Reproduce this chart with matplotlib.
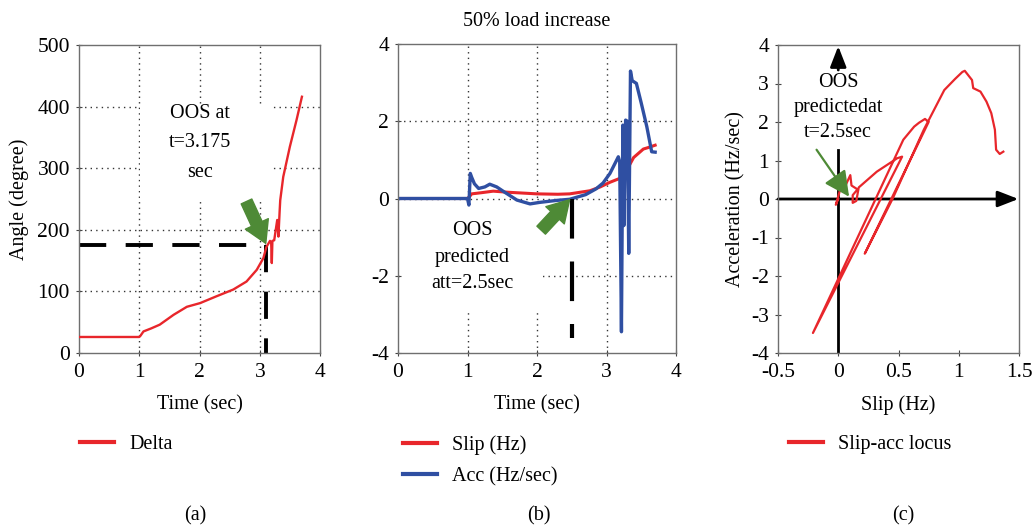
import matplotlib
matplotlib.use("Agg")
import matplotlib.pyplot as plt
from matplotlib.patches import Rectangle
from matplotlib.lines import Line2D

plt.rcParams['font.family'] = ['Liberation Serif', 'DejaVu Serif']
plt.rcParams['font.size'] = 14.5
plt.rcParams['axes.unicode_minus'] = False

# ---------------- data ----------------
# (a) rotor angle
delta_t = [0, 1.0, 1.02, 1.07, 1.2, 1.34, 1.57, 1.79, 2.01, 2.28, 2.56, 2.78, 2.95, 3.06, 3.11,
           3.17, 3.19, 3.20, 3.21, 3.24, 3.29, 3.31, 3.33, 3.34, 3.39, 3.50, 3.61, 3.70]
delta = [26, 26, 28, 35, 40, 46, 62, 75, 81, 92, 103, 116, 135, 154, 172,
         182, 178, 146, 182, 183, 216, 189, 230, 248, 286, 335, 378, 416]
oos_t_a = 3.11
oos_delta = 176

# (b) slip and acceleration vs time
slip_t = [0, 1.0, 1.03, 1.06, 1.2, 1.37, 1.6, 1.8, 2.0, 2.3, 2.47, 2.76, 2.91, 3.05, 3.19,
          3.29, 3.39, 3.53, 3.62, 3.70]
slip = [0, 0, 0.05, 0.12, 0.15, 0.19, 0.16, 0.14, 0.12, 0.11, 0.12, 0.2, 0.3, 0.42, 0.52,
        0.73, 1.06, 1.28, 1.33, 1.38]
acc_t = [0, 1.0, 1.02, 1.04, 1.06, 1.1, 1.16, 1.25, 1.32, 1.42, 1.52, 1.71, 1.90, 2.04, 2.28,
         2.47, 2.7, 2.85, 2.95, 3.05, 3.12, 3.17, 3.19, 3.215, 3.235, 3.25, 3.275, 3.30, 3.32,
         3.345, 3.37, 3.43, 3.50, 3.58, 3.65, 3.70]
acc = [0, 0, -0.17, 0.65, 0.55, 0.38, 0.26, 0.3, 0.37, 0.3, 0.18, -0.04, -0.14, -0.1, -0.05,
       -0.02, 0.1, 0.25, 0.4, 0.65, 0.9, 1.08, 0.95, -3.45, 1.9, -0.7, 2.03, 2.0, -1.42,
       3.3, 3.05, 2.98, 2.47, 1.86, 1.21, 1.2]
oos_t_b = 2.5

# (c) slip-acceleration locus
locus_s = [0, -0.02, 0.03, 0.06, 0.10, 0.11, 0.16, 0.12, 0.12, 0.15, 0.17, 0.32, 0.49, 0.53,
           -0.21, 0.54, 0.63, 0.67, 0.72, 0.75, 0.22, 0.45, 0.71, 0.88, 0.97, 1.03, 1.05,
           1.11, 1.12, 1.18, 1.23, 1.27, 1.30, 1.31, 1.34, 1.37]
locus_a = [0, -0.15, 0.40, 0.35, 0.62, 0.35, 0.25, 0.10, -0.10, -0.05, 0.30, 0.71, 1.06, 1.10,
           -3.48, 1.54, 1.88, 1.98, 2.08, 2.0, -1.42, 0.0, 1.8, 2.83, 3.12, 3.30, 3.33,
           3.09, 2.88, 2.79, 2.53, 2.23, 1.80, 1.28, 1.17, 1.23]

# ---------------- styling ----------------
RED = '#e8262b'
BLUE = '#2f4fa2'
GREEN = '#4e8a36'
SPINE = '#6f6f6f'
GRID = dict(color='#333333', linestyle=(0, (1, 3)), linewidth=1.0)
TXT = 14.5
TICK = 15.5

W, H = 1033, 530
fig = plt.figure(figsize=(W / 100, H / 100), dpi=100)


def px_axes(l, r, t, b):
    return fig.add_axes([l / W, 1 - b / H, (r - l) / W, (b - t) / H])


def style(ax):
    for s in ax.spines.values():
        s.set_color(SPINE)
        s.set_linewidth(1.0)
    ax.tick_params(direction='inout', length=5, width=0.8, color='#444444', labelsize=TICK)
    ax.tick_params(axis='x', pad=5)
    ax.tick_params(axis='y', pad=4)
    ax.set_axisbelow(True)


# ---- (a) ----
axa = px_axes(79, 320, 45, 353)
style(axa)
axa.set_xlim(0, 4)
axa.set_ylim(0, 500)
axa.set_xticks([0, 1, 2, 3, 4])
axa.set_yticks([0, 100, 200, 300, 400, 500])
for x in [1, 2, 3]:
    axa.axvline(x, zorder=0.5, **GRID)
for y in [100, 200, 300, 400]:
    axa.axhline(y, zorder=0.5, **GRID)
axa.add_patch(Rectangle((1.02, 246), 2.15, 157, facecolor='white', edgecolor='none', zorder=1))
axa.text(2.0, 341, 'OOS at\nt=3.175\nsec', ha='center', va='center', fontsize=TXT,
         linespacing=1.75, zorder=3)
la, = axa.plot(delta_t, delta, color=RED, lw=1.7, zorder=3, label='Delta')
axa.plot([0, oos_t_a], [oos_delta, oos_delta], color='black', lw=2.8, dashes=(7, 5), zorder=2.5)
axa.plot([oos_t_a, oos_t_a], [oos_delta, 0], color='black', lw=2.8, dashes=(7, 5), zorder=2.5)
axa.annotate('', xy=(3.10, 178), xytext=(2.78, 246),
             arrowprops=dict(arrowstyle='simple,head_length=1.1,head_width=1.3,tail_width=0.6',
                             mutation_scale=14, color=GREEN, shrinkA=0, shrinkB=0), zorder=4)
axa.set_xlabel('Time (sec)', fontsize=TXT, labelpad=9)
axa.set_ylabel('Angle (degree)', fontsize=TXT, labelpad=6)

# ---- (b) ----
axb = px_axes(398, 676, 44, 353)
style(axb)
axb.set_xlim(0, 4)
axb.set_ylim(-4, 4)
axb.set_xticks([0, 1, 2, 3, 4])
axb.set_yticks([-4, -2, 0, 2, 4])
for x in [1, 2, 3]:
    axb.axvline(x, zorder=0.5, **GRID)
for y in [-2, 0, 2]:
    axb.axhline(y, zorder=0.5, **GRID)
axb.add_patch(Rectangle((0.08, -2.95), 2.01, 2.85, facecolor='white', edgecolor='none', zorder=1))
axb.text(1.07, -1.52, 'OOS\npredicted\natt=2.5sec', ha='center', va='center', fontsize=TXT,
         linespacing=1.55, zorder=3)
lb1, = axb.plot(slip_t, slip, color=RED, lw=2.2, zorder=2, label='Slip (Hz)')
lb2, = axb.plot(acc_t, acc, color=BLUE, lw=2.4, zorder=2.2, label='Acc (Hz/sec)')
axb.plot([oos_t_b, oos_t_b], [0, -3.6], color='black', lw=3.0, dashes=(9.5, 5.5), zorder=2.5)
axb.annotate('', xy=(2.47, -0.03), xytext=(2.06, -0.82),
             arrowprops=dict(arrowstyle='simple,head_length=1.1,head_width=1.3,tail_width=0.6',
                             mutation_scale=14, color=GREEN, shrinkA=0, shrinkB=0), zorder=4)
axb.set_xlabel('Time (sec)', fontsize=TXT, labelpad=9)
axb.set_title('50% load increase', fontsize=TXT, pad=13)

# ---- (c) ----
axc = px_axes(778, 1019, 45, 353)
style(axc)
axc.set_xlim(-0.5, 1.5)
axc.set_ylim(-4, 4)
axc.set_xticks([-0.5, 0, 0.5, 1, 1.5])
axc.set_xticklabels(['-0.5', '0', '0.5', '1', '1.5'])
axc.set_yticks([-4, -3, -2, -1, 0, 1, 2, 3, 4])
lc, = axc.plot(locus_s, locus_a, color=RED, lw=1.6, zorder=3, label='Slip-acc locus')
axc.annotate('', xy=(1.495, 0), xytext=(-0.5, 0),
             arrowprops=dict(arrowstyle='-|>,head_length=0.9,head_width=0.35', lw=2.0,
                             color='black', mutation_scale=14, shrinkA=0, shrinkB=0), zorder=2)
axc.plot([0, 0], [-4, 1.28], color='black', lw=2.0, zorder=2)
axc.annotate('', xy=(0, 3.97), xytext=(0, 3.35),
             arrowprops=dict(arrowstyle='-|>,head_length=0.9,head_width=0.35', lw=2.0,
                             color='black', mutation_scale=14, shrinkA=0, shrinkB=0), zorder=2)
axc.text(0.0, 2.38, 'OOS\npredictedat\nt=2.5sec', ha='center', va='center', fontsize=TXT,
         linespacing=1.45, zorder=3)
axc.annotate('', xy=(0.09, 0.06), xytext=(-0.18, 1.28),
             arrowprops=dict(arrowstyle='-|>,head_length=1.1,head_width=0.55', lw=1.6,
                             color=GREEN, mutation_scale=14, shrinkA=0, shrinkB=0), zorder=4)
axc.set_xlabel('Slip (Hz)', fontsize=TXT, labelpad=9)
axc.set_ylabel('Acceleration (Hz/sec)', fontsize=TXT, labelpad=4)

# ---- legends ----
def handle(line, color):
    return Line2D([], [], color=color, lw=3.0, label=line.get_label())


leg_kw = dict(loc='upper left', frameon=False, fontsize=TXT, borderpad=0, borderaxespad=0,
              handlelength=1.7, handletextpad=0.75, labelspacing=0.62)
fig.legend(handles=[handle(la, RED)], bbox_to_anchor=(80 / W, 1 - 435 / H), **leg_kw)
fig.legend(handles=[handle(lb1, RED), handle(lb2, BLUE)],
           bbox_to_anchor=(403 / W, 1 - 435 / H), **leg_kw)
fig.legend(handles=[handle(lc, RED)], bbox_to_anchor=(789 / W, 1 - 435 / H), **leg_kw)

# ---- captions ----
fig.text(195 / W, 1 - 516 / H, '(a)', ha='center', va='center', fontsize=TXT)
fig.text(539 / W, 1 - 516 / H, '(b)', ha='center', va='center', fontsize=TXT)
fig.text(903 / W, 1 - 516 / H, '(c)', ha='center', va='center', fontsize=TXT)

fig.savefig('out.png', dpi=100)
